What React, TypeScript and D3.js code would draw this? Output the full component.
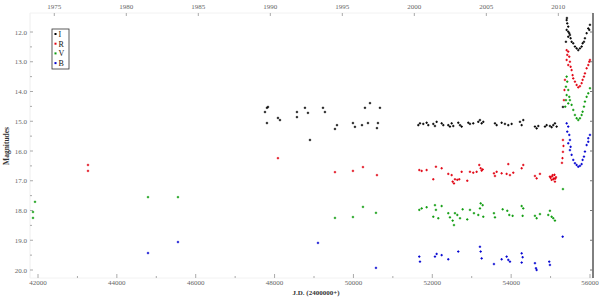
import React from "react";
import * as d3 from "d3";

type Pt = [number, number];

const bandI: Pt[] = [
  [47757,14.69],[47807,14.55],[47833,14.52],[48086,14.89],[48137,14.96],[47807,15.06],[48568,14.69],[48568,14.86],[48771,14.55],[48847,14.72],[49228,14.55],[49278,14.69],[48898,15.63],[49583,15.13],[49532,15.26],[49988,15.06],[50039,15.19],[50217,15.13],[50369,15.06],[50597,15.23],[50622,15.06],[50293,14.55],[50420,14.39],[50673,14.55],
  [51645,15.13],[51688,15.07],[51771,15.09],[51857,15.05],[51898,15.13],[52025,15.09],[52068,15.16],[52111,15.02],[52238,15.07],[52279,15.13],[52405,15.13],[52448,15.18],[52492,15.07],[52532,15.16],[52659,15.05],[52703,15.13],[52745,15.18],[52913,15.05],[52956,15.09],[53039,15.07],[53166,15.02],[53209,14.96],[53252,15.07],[53293,15.02],[53590,15.07],[53633,15.13],[53759,15.05],[53843,15.09],[53927,15.13],[54013,15.09],[54224,15.02],[54267,15.13],[54307,14.96],[54604,15.18],[54647,15.24],[54688,15.16],[54858,15.18],[54901,15.13],[54984,15.16],[55027,15.20],[55068,15.13],[55111,15.07],[55154,15.18],
  [55314,14.52],
  [55408,11.60],[55423,11.71],[55448,11.82],[55408,11.93],[55448,11.99],[55474,12.04],[55491,12.10],[55448,12.16],[55390,12.33],[55509,12.21],[55534,12.33],[55575,12.38],[55618,12.49],[55661,12.55],[55702,12.61],[55745,12.55],[55788,12.49],[55813,12.38],[55847,12.33],[55872,12.21],[55915,12.04],[55956,11.88],[55999,11.76],[55981,11.93],[55415,11.53],
];

const bandR: Pt[] = [
  [43268,16.47],[43268,16.67],[48086,16.24],[49532,16.71],[49988,16.67],[50242,16.54],[50597,16.81],
  [51670,16.64],[51731,16.67],[51857,16.64],[52025,16.95],[52093,16.53],[52238,16.58],[52405,16.77],[52492,16.81],[52517,17.03],[52550,17.09],[52575,16.95],[52634,16.97],[52684,16.95],[52745,16.70],[52887,17.00],[52956,16.70],[53039,16.73],[53125,16.70],[53191,16.47],[53227,16.58],[53252,16.66],[53278,16.62],[53564,16.75],[53590,16.84],[53633,16.70],[53759,16.75],[53886,16.77],[53927,16.44],[53970,16.81],[54054,16.73],[54267,16.58],[54307,16.47],[54604,16.84],[54647,16.92],[54731,16.77],[54984,16.86],[55027,16.97],[55053,16.81],[55086,16.92],[55111,17.03],[55137,16.88],[55000,16.90],[55040,16.85],[55070,16.95],[55100,16.80],[55120,16.93],
  [55289,16.40],[55302,16.24],[55314,16.03],[55327,15.83],[55314,15.63],[55339,14.29],[55352,13.95],[55365,13.61],
  [55408,12.61],[55448,12.66],[55423,12.77],[55474,12.83],[55408,12.94],[55491,13.00],[55448,13.11],[55509,13.17],[55534,13.28],[55559,13.45],[55575,13.56],[55618,13.67],[55661,13.78],[55702,13.86],[55745,13.82],[55788,13.72],[55813,13.61],[55847,13.50],[55872,13.39],[55915,13.22],[55956,13.11],[55981,13.00],[55999,12.94],
];

const bandV: Pt[] = [
  [41873,18.05],[41873,18.25],[41924,17.71],[44790,17.55],[45550,17.55],[49532,18.25],[49988,18.22],[50242,17.88],[50572,18.08],
  [51670,17.98],[51731,17.93],[51857,17.89],[52068,17.82],[52093,17.98],[52025,18.21],[52152,18.26],[52238,17.85],[52405,18.09],[52448,18.23],[52517,18.34],[52550,18.49],[52575,18.09],[52634,18.15],[52703,18.26],[52770,17.96],[52887,18.30],[52956,17.98],[53057,18.09],[53166,18.15],[53209,17.93],[53227,17.76],[53278,17.82],[53293,18.21],[53564,18.09],[53590,18.23],[53785,17.96],[53902,18.01],[53952,18.15],[54038,18.18],[54267,17.85],[54307,17.93],[54292,18.18],[54604,18.18],[54647,18.26],[54731,18.12],[54941,18.15],[54984,18.01],[55027,18.21],[55068,18.26],[55111,18.34],
  [55314,17.28],
  [55408,13.50],[55423,13.67],[55390,13.84],[55448,13.95],[55408,14.12],[55474,14.18],[55491,14.29],[55448,14.40],[55390,14.29],[55372,14.51],[55534,14.45],[55575,14.62],[55618,14.79],[55661,14.90],[55702,14.96],[55745,14.90],[55788,14.79],[55813,14.68],[55847,14.51],[55872,14.34],[55915,14.18],[55956,14.06],[55999,13.89],
];

const bandB: Pt[] = [
  [44790,19.43],[45550,19.06],[49101,19.09],[50572,19.93],
  [51670,19.55],[51688,19.72],[52068,19.55],[52111,19.46],[52238,19.50],[52405,19.64],[52659,19.38],[53209,19.22],[53227,19.38],[53252,19.61],[53564,19.80],[53759,19.64],[53886,19.55],[53927,19.66],[53970,19.72],[54267,19.44],[54292,19.57],[54267,19.75],[54604,19.77],[54630,19.94],[54647,20.00],[54966,19.72],[54984,19.83],
  [55307,18.88],
  [55408,15.07],[55448,15.18],[55423,15.35],[55474,15.46],[55491,15.63],[55448,15.74],[55509,15.86],[55491,15.97],[55534,16.13],[55575,16.30],[55618,16.41],[55661,16.47],[55702,16.53],[55745,16.50],[55788,16.44],[55813,16.30],[55847,16.19],[55872,16.02],[55915,15.80],[55956,15.69],[55956,15.57],[55999,15.46],
];

const bandNames = ["I", "R", "V", "B"];
const bandColors = ["#000000", "#e00010", "#0a9a0a", "#0000d0"];
const magTicks = [12, 13, 14, 15, 16, 17, 18, 19, 20];
const jdTicks = [42000, 44000, 46000, 48000, 50000, 52000, 54000, 56000];
const yearTicks = [1975, 1980, 1985, 1990, 1995, 2000, 2005, 2010];

const L = 30, R = 593, T = 13, B = 278;

export default function App() {
  const x = d3.scaleLinear().domain([42000, 56000]).range([38, 590]);
  const y = d3.scaleLinear().domain([12, 20]).range([32, 270]);
  const yearToJD = (yr: number) => 51544.5 + (yr - 2000) * 365.25;
  const bands = [bandI, bandR, bandV, bandB];
  const minorJD = d3.range(42000, 56001, 1000);
  const minorMag = d3.range(12, 20.01, 0.5);
  const font = "'Liberation Serif', 'DejaVu Serif', serif";
  const s = 1.2;

  return (
    <svg width={600} height={299} style={{ position: "absolute", left: 0, top: 0 }} fontFamily={font}>
      <rect x={0} y={0} width={600} height={299} fill="#fff" />
      <line x1={L} x2={L} y1={T} y2={B} stroke="#eeeeee" />
      <line x1={L} x2={R} y1={T} y2={T} stroke="#f2f2f2" />
      <line x1={L} x2={R} y1={B} y2={B} stroke="#f2f2f2" />
      <line x1={R} x2={R} y1={T} y2={B} stroke="#000" strokeWidth={1} />

      {minorMag.map((m) => (
        <line key={"mm" + m} x1={L} x2={L + (m % 1 === 0 ? 3 : 2)} y1={y(m)} y2={y(m)} stroke="#aaa" />
      ))}
      {magTicks.map((m) => (
        <g key={"mt" + m}>
          <text x={27} y={y(m) + 2.5} fontSize={7} textAnchor="end" fill="#666">{m.toFixed(1)}</text>
          <line x1={R} x2={R - 3} y1={y(m)} y2={y(m)} stroke="#777" />
        </g>
      ))}

      {minorJD.map((j) => (
        <line key={"bj" + j} x1={x(j)} x2={x(j)} y1={B} y2={B - (j % 2000 === 0 ? 4 : 2)} stroke="#aaa" />
      ))}
      {jdTicks.map((j) => (
        <text key={"jt" + j} x={x(j)} y={285} fontSize={7} textAnchor="middle" fill="#666">{j}</text>
      ))}

      {yearTicks.map((yr) => (
        <g key={"yr" + yr}>
          <line x1={x(yearToJD(yr))} x2={x(yearToJD(yr))} y1={T} y2={T + 3} stroke="#aaa" />
          <text x={x(yearToJD(yr))} y={9} fontSize={7} textAnchor="middle" fill="#666">{yr}</text>
        </g>
      ))}

      <text transform="translate(9,146) rotate(-90)" fontSize={7.5} fontWeight="bold" textAnchor="middle" fill="#333">Magnitudes</text>
      <text x={316} y={295} fontSize={7} fontWeight="bold" textAnchor="middle" fill="#333">J.D. (2400000+)</text>

      {bands.map((pts, bi) => (
        <g key={"band" + bi} stroke={bandColors[bi]} strokeWidth={1}>
          {pts.map((p, i) => {
            const cx = x(p[0]);
            const cy = y(p[1]);
            return (
              <path key={i} d={`M${cx - s},${cy}H${cx + s}M${cx},${cy - s}V${cy + s}`} fill="none" />
            );
          })}
        </g>
      ))}

      <rect x={52} y={29} width={17} height={40} fill="#fff" stroke="#333" strokeWidth={0.8} />
      {bandNames.map((n, i) => (
        <g key={"lg" + n}>
          <rect x={54.5} y={34 + i * 9.7 - 1} width={2} height={2} fill={bandColors[i]} />
          <text x={58.5} y={34 + i * 9.7 + 2.8} fontSize={8} fill="#111">{n}</text>
        </g>
      ))}
    </svg>
  );
}
